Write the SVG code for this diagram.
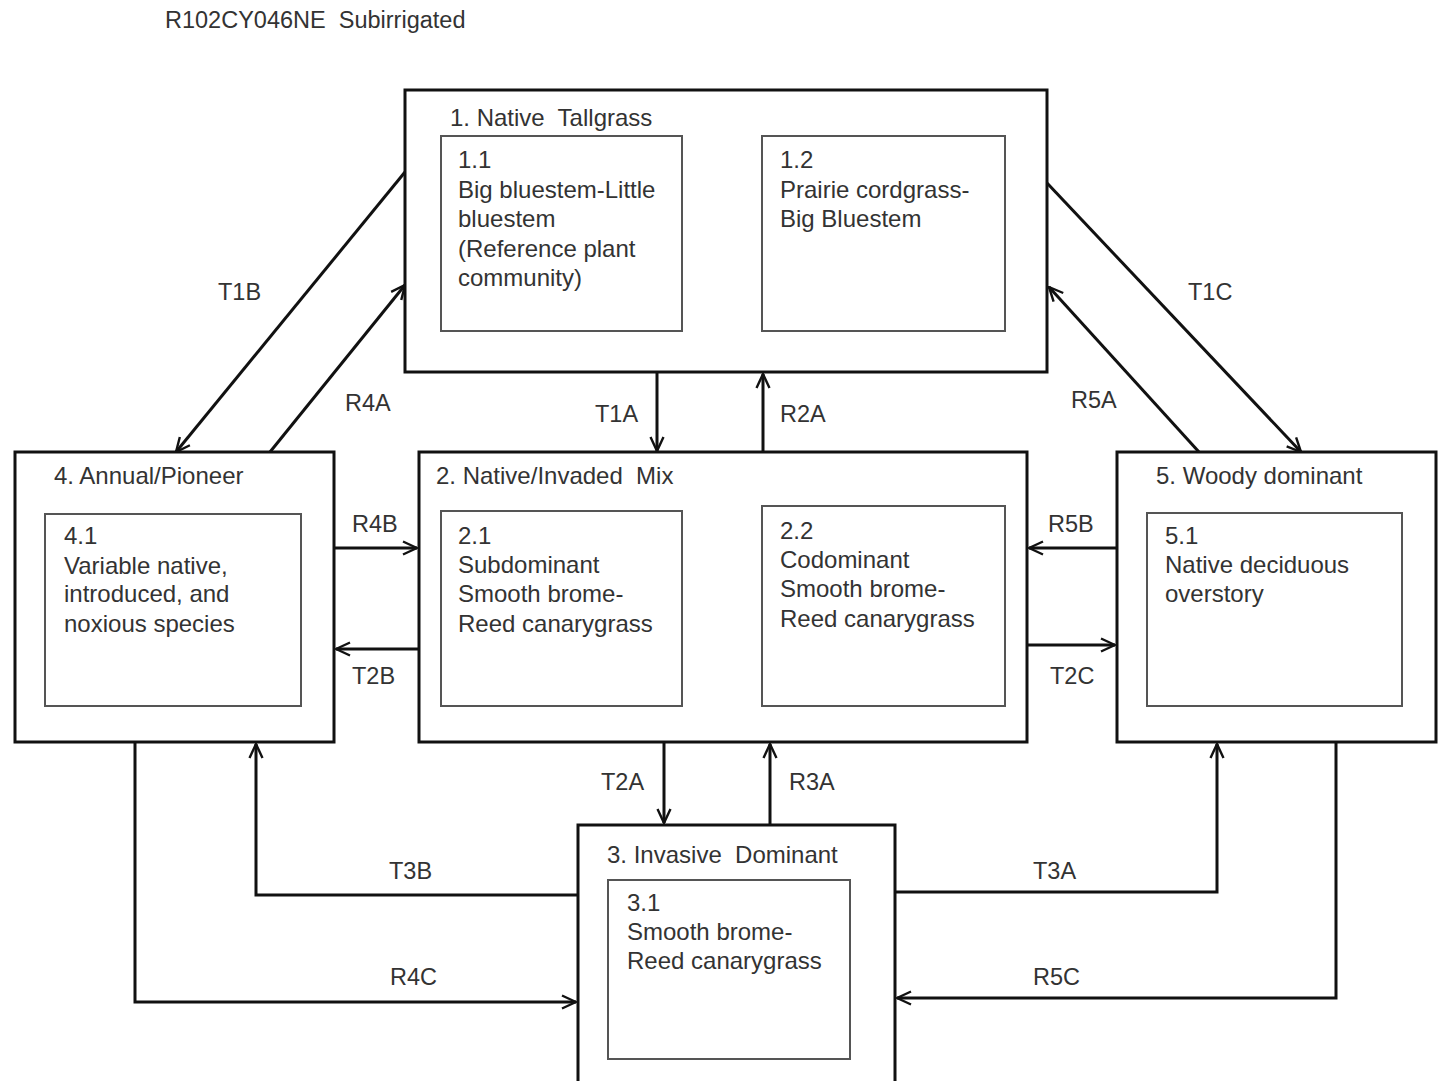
<svg xmlns="http://www.w3.org/2000/svg" width="1444" height="1081" viewBox="0 0 1444 1081">
<defs>
<style>
.t{font-family:"Liberation Sans",Arial,sans-serif;font-size:24px;fill:#333}
.lb{font-family:"Liberation Sans",Arial,sans-serif;font-size:23.5px;fill:#333}
.ob{fill:#fff;stroke:#111;stroke-width:3}
.ib{fill:#fff;stroke:#555;stroke-width:2}
.c{fill:none;stroke:#111;stroke-width:3}
.ct{fill:none;stroke:#333;stroke-width:1.6}
</style>
<marker id="a" viewBox="0 0 16 16" refX="15" refY="8" markerWidth="16" markerHeight="16" markerUnits="userSpaceOnUse" orient="auto">
<path d="M1,1.5 L15,8 L1,14.5" fill="none" stroke="#111" stroke-width="2.4"/>
</marker>
<marker id="b" viewBox="0 0 16 16" refX="15" refY="8" markerWidth="16" markerHeight="16" markerUnits="userSpaceOnUse" orient="auto">
<path d="M1,1.5 L15,8 L1,14.5" fill="none" stroke="#333" stroke-width="1.6"/>
</marker>
</defs>
<rect width="1444" height="1081" fill="#fff"/>
<text class="lb" x="165" y="28" font-size="23">R102CY046NE&#160; Subirrigated</text>

<g id="connectors">
<path class="c" d="M405,172 L176,452" marker-end="url(#a)"/>
<path class="c" d="M270,452 L405,285" marker-end="url(#a)"/>
<path class="c" d="M1047,183 L1301,452" marker-end="url(#a)"/>
<path class="c" d="M1199,452 L1049,287" marker-end="url(#a)"/>
<path class="c" d="M657,372 L657,451" marker-end="url(#a)"/>
<path class="c" d="M763,452 L763,374" marker-end="url(#a)"/>
<path class="c" d="M334,548 L417,548" marker-end="url(#a)"/>
<path class="c" d="M419,649 L336,649" marker-end="url(#a)"/>
<path class="c" d="M1117,548 L1029,548" marker-end="url(#a)"/>
<path class="c" d="M1027,645 L1115,645" marker-end="url(#a)"/>
<path class="c" d="M664,742 L664,823" marker-end="url(#a)"/>
<path class="c" d="M770,825 L770,744" marker-end="url(#a)"/>
<path class="c" d="M578,895 L256,895 L256,744" marker-end="url(#a)"/>
<path class="c" d="M135,742 L135,1002 L576,1002" marker-end="url(#a)"/>
<path class="c" d="M895,892 L1217,892 L1217,744" marker-end="url(#a)"/>
<path class="c" d="M1336,742 L1336,998 L897,998" marker-end="url(#a)"/>
<path class="ct" d="M682,200 L758,200" marker-end="url(#b)"/>
<path class="ct" d="M762,279 L684,279" marker-end="url(#b)"/>
<path class="ct" d="M682,567 L758,567" marker-end="url(#b)"/>
<path class="ct" d="M762,646 L684,646" marker-end="url(#b)"/>
<text class="lb" x="218" y="300">T1B</text>
<text class="lb" x="345" y="411">R4A</text>
<text class="lb" x="1188" y="300">T1C</text>
<text class="lb" x="1071" y="408">R5A</text>
<text class="lb" x="595" y="422">T1A</text>
<text class="lb" x="780" y="422">R2A</text>
<text class="lb" x="352" y="532">R4B</text>
<text class="lb" x="352" y="684">T2B</text>
<text class="lb" x="1048" y="532">R5B</text>
<text class="lb" x="1050" y="684">T2C</text>
<text class="lb" x="601" y="790">T2A</text>
<text class="lb" x="789" y="790">R3A</text>
<text class="lb" x="389" y="879">T3B</text>
<text class="lb" x="390" y="985">R4C</text>
<text class="lb" x="1033" y="879">T3A</text>
<text class="lb" x="1033" y="985">R5C</text>
<text class="lb" x="697" y="178">1.1A</text>
<text class="lb" x="694" y="316">1.2A</text>
<text class="lb" x="697" y="546">2.1A</text>
<text class="lb" x="700" y="684">2.2A</text>
</g>

<g id="node1">
<rect class="ob" x="405" y="90" width="642" height="282"/>
<text class="t" x="450" y="126">1. Native&#160; Tallgrass</text>
<g id="node1-1">
<rect class="ib" x="441" y="136" width="241" height="195"/>
<text class="t" x="458" y="168">1.1</text>
<text class="t" x="458" y="198">Big bluestem-Little</text>
<text class="t" x="458" y="227">bluestem</text>
<text class="t" x="458" y="257">(Reference plant</text>
<text class="t" x="458" y="286">community)</text>
</g>
<g id="node1-2">
<rect class="ib" x="762" y="136" width="243" height="195"/>
<text class="t" x="780" y="168">1.2</text>
<text class="t" x="780" y="198">Prairie cordgrass-</text>
<text class="t" x="780" y="227">Big Bluestem</text>
</g>
</g>

<g id="node4">
<rect class="ob" x="15" y="452" width="319" height="290"/>
<text class="t" x="54" y="484">4. Annual/Pioneer</text>
<g id="node4-1">
<rect class="ib" x="45" y="514" width="256" height="192"/>
<text class="t" x="64" y="544">4.1</text>
<text class="t" x="64" y="574">Variable native,</text>
<text class="t" x="64" y="602">introduced, and</text>
<text class="t" x="64" y="632">noxious species</text>
</g>
</g>

<g id="node2">
<rect class="ob" x="419" y="452" width="608" height="290"/>
<text class="t" x="436" y="484">2. Native/Invaded&#160; Mix</text>
<g id="node2-1">
<rect class="ib" x="441" y="511" width="241" height="195"/>
<text class="t" x="458" y="544">2.1</text>
<text class="t" x="458" y="573">Subdominant</text>
<text class="t" x="458" y="602">Smooth brome-</text>
<text class="t" x="458" y="632">Reed canarygrass</text>
</g>
<g id="node2-2">
<rect class="ib" x="762" y="506" width="243" height="200"/>
<text class="t" x="780" y="539">2.2</text>
<text class="t" x="780" y="568">Codominant</text>
<text class="t" x="780" y="597">Smooth brome-</text>
<text class="t" x="780" y="627">Reed canarygrass</text>
</g>
</g>

<g id="node5">
<rect class="ob" x="1117" y="452" width="319" height="290"/>
<text class="t" x="1156" y="484">5. Woody dominant</text>
<g id="node5-1">
<rect class="ib" x="1147" y="513" width="255" height="193"/>
<text class="t" x="1165" y="544">5.1</text>
<text class="t" x="1165" y="573">Native deciduous</text>
<text class="t" x="1165" y="602">overstory</text>
</g>
</g>

<g id="node3">
<rect class="ob" x="578" y="825" width="317" height="262"/>
<text class="t" x="607" y="863">3. Invasive&#160; Dominant</text>
<g id="node3-1">
<rect class="ib" x="608" y="880" width="242" height="179"/>
<text class="t" x="627" y="911">3.1</text>
<text class="t" x="627" y="940">Smooth brome-</text>
<text class="t" x="627" y="969">Reed canarygrass</text>
</g>
</g>
</svg>
